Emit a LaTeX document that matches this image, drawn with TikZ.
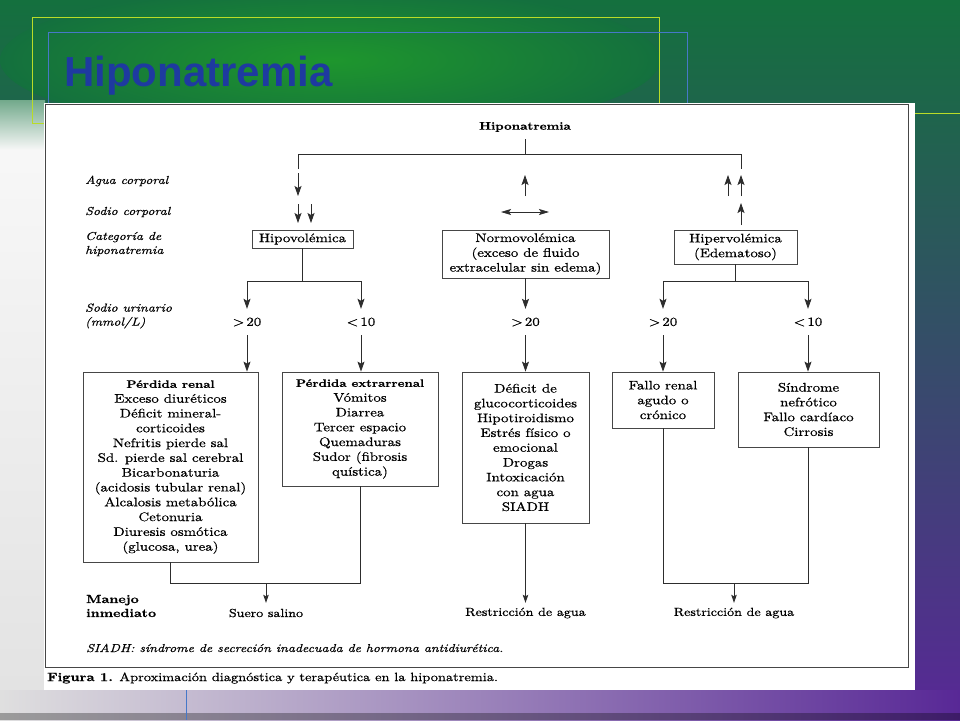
\documentclass[tikz,border=0pt]{standalone}
\usepackage{fontspec}
\setmainfont{lmroman10-regular.otf}[BoldFont=lmroman10-bold.otf,ItalicFont=lmroman10-italic.otf,
  FakeStretch=1.2,UprightFeatures={FakeBold=0.6},ItalicFeatures={FakeBold=0.5},BoldFeatures={FakeBold=0.7}]
\newfontfamily\titlefont{Liberation Sans}
\usetikzlibrary{arrows.meta}

\definecolor{bgtop}{RGB}{20,112,62}
\definecolor{bggreen}{RGB}{30,150,45}
\definecolor{bgteal}{RGB}{40,150,150}
\definecolor{bgpurple}{RGB}{88,40,150}
\definecolor{titleblue}{RGB}{30,58,160}
\definecolor{linegray}{RGB}{45,45,45}
\definecolor{boxgray}{RGB}{70,70,70}
\definecolor{lineyellow}{RGB}{185,220,40}
\definecolor{lineblue}{RGB}{70,120,200}

\tikzset{
  line/.style={draw=linegray, line width=0.8pt},
  arr/.style={line, -{Stealth[length=10pt,width=7pt,inset=2pt]}},
  arrsmall/.style={line, -{Stealth[length=8pt,width=5.5pt,inset=1.5pt]}},
  box/.style={draw=boxgray, line width=0.8pt, fill=white, align=center, inner sep=0pt,
    font=\fontsize{12.4}{14.8}\selectfont},
  lvl/.style={font=\fontsize{12.4}{14.8}\selectfont, minimum height=26pt, inner sep=0pt},
  side/.style={anchor=west, align=left, inner sep=0pt, font=\fontsize{11.5}{14}\selectfont\itshape},
  treat/.style={font=\fontsize{11.7}{14}\selectfont, minimum height=20pt, inner sep=0pt},
}
\newcommand{\boxhead}[1]{{\fontsize{10.8}{14.8}\selectfont\bfseries #1}}

\begin{document}
\begin{tikzpicture}[x=1pt,y=-1pt]
\useasboundingbox (0,0) rectangle (960,720);

% slide background
\shade[top color=bgtop, middle color=bgteal, bottom color=bgpurple] (0,0) rectangle (960,720);
\shade[inner color=bggreen, outer color=bgtop] (330,60) ellipse [x radius=330, y radius=75];
\shade[top color=bgtop!60!white, bottom color=white!94!gray] (0,100) rectangle (45,150);
\shade[top color=white!94!gray, bottom color=gray!22] (0,150) rectangle (45,690);
\shade[left color=gray!25, middle color=blue!8!white, right color=bgpurple] (0,690) rectangle (960,720);
\fill[black, opacity=0.3] (0,713) rectangle (960,720);

\draw[lineyellow, line width=0.8pt] (32,17) rectangle (659,123);
\draw[lineblue, line width=0.8pt] (48,32) rectangle (687,123);
\draw[lineyellow, line width=0.8pt] (915,113) -- (960,113);
\draw[lineblue, line width=0.8pt] (186,690) -- (186,720);

\node[anchor=west, inner sep=0pt, text=titleblue, font=\titlefont\fontsize{42}{42}\selectfont\bfseries]
  (slidetitle) at (64,76) {Hiponatremia};

% figure panel
\fill[white] (44,103) rectangle (915,690);
\draw[boxgray, line width=0.8pt] (45,104) rectangle (908,667);

% top of the tree
\node[font=\fontsize{11}{13}\selectfont\bfseries] (hipo) at (525,127) {Hiponatremia};
\coordinate (tM) at (525,154);
\coordinate (tL) at (298,154);
\coordinate (tR) at (741,154);
\coordinate (legL) at (298,169);
\coordinate (legR) at (741,169);
\draw[line, shorten <=4pt] (hipo) -- (tM);
\draw[line] (legL) -- (tL) -- (tR) -- (legR);

% water and sodium indicators
\draw[arr] (298,173) -- (298,196);
\foreach \x in {298,311} \draw[arr] (\x,204) -- (\x,223);
\draw[arr] (525,196) -- (525,175);
\draw[line, {Stealth[length=10pt,width=6pt,inset=2pt]}-{Stealth[length=10pt,width=6pt,inset=2pt]}] (501,212) -- (549,212);
\foreach \x in {728,741} \draw[arr] (\x,196) -- (\x,175);
\draw[arr] (741,225) -- (741,203);

% row labels
\node[side] (agua) at (85,181) {Agua corporal};
\node[side] (sodio) at (85,212) {Sodio corporal};
\node[side] (categ) at (85,244) {Categoría de\\hiponatremia};
\node[side] (urin) at (85,316) {Sodio urinario\\(mmol/L)};

% categories
\node[box, minimum width=101pt, minimum height=18pt] (hipov) at (302.5,239) {Hipovolémica};
\node[box, minimum width=167pt, minimum height=48pt] (normo) at (525.5,254)
  {Normovolémica\\(exceso de fluido\\extracelular sin edema)};
\node[box, minimum width=123pt, minimum height=34pt] (hiper) at (735.5,247)
  {Hipervolémica\\(Edematoso)};

% urinary sodium
\node[lvl] (gtA) at (247,322) {>\,20};
\node[lvl] (ltA) at (361,322) {<\,10};
\node[lvl] (gtB) at (525.5,322) {>\,20};
\node[lvl] (gtC) at (663,322) {>\,20};
\node[lvl] (ltC) at (808,322) {<\,10};

\coordinate (hvJ) at (302.5,281);
\draw[line] (hipov) -- (hvJ);
\draw[line] (gtA |- hvJ) -- (ltA |- hvJ);
\draw[arr] (gtA |- hvJ) -- (gtA);
\draw[arr] (ltA |- hvJ) -- (ltA);
\draw[arr] (normo) -- (gtB);
\coordinate (hrJ) at (735.5,281);
\draw[line] (hiper) -- (hrJ);
\draw[line] (gtC |- hrJ) -- (ltC |- hrJ);
\draw[arr] (gtC |- hrJ) -- (gtC);
\draw[arr] (ltC |- hrJ) -- (ltC);

% causes
\node[box, minimum width=175pt, minimum height=190pt] (renal) at (170.5,467)
  {\boxhead{Pérdida renal}\\Exceso diuréticos\\Déficit mineral-\\corticoides\\Nefritis pierde sal\\
   Sd. pierde sal cerebral\\Bicarbonaturia\\(acidosis tubular renal)\\Alcalosis metabólica\\
   Cetonuria\\Diuresis osmótica\\(glucosa, urea)};
\node[box, minimum width=156pt, minimum height=114pt] (extra) at (360,429)
  {\boxhead{Pérdida extrarrenal}\\Vómitos\\Diarrea\\Tercer espacio\\Quemaduras\\Sudor (fibrosis\\quística)};
\node[box, minimum width=127pt, minimum height=151pt] (deficit) at (525.5,447.5)
  {Déficit de\\glucocorticoides\\Hipotiroidismo\\Estrés físico o\\emocional\\Drogas\\Intoxicación\\con agua\\SIADH};
\node[box, minimum width=102pt, minimum height=56pt] (fallo) at (663,400)
  {Fallo renal\\agudo o\\crónico};
\node[box, minimum width=141pt, minimum height=75pt] (sind) at (808.5,409.5)
  {Síndrome\\nefrótico\\Fallo cardíaco\\Cirrosis};

\draw[arr] (gtA.south) -- (gtA.south |- renal.north);
\draw[arr] (ltA.south) -- (ltA.south |- extra.north);
\draw[arr] (gtB.south) -- (gtB.south |- deficit.north);
\draw[arr] (gtC.south) -- (gtC.south |- fallo.north);
\draw[arr] (ltC.south) -- (ltC.south |- sind.north);

% immediate management
\node[anchor=west, align=left, inner sep=0pt, font=\fontsize{11.7}{14}\selectfont\bfseries]
  (manejo) at (86,606) {Manejo\\inmediato};
\node[treat] (suero) at (266,613) {Suero salino};
\node[treat] (restrA) at (525.5,613) {Restricción de agua};
\node[treat] (restrB) at (734,613) {Restricción de agua};

\coordinate (mJ) at (266,583);
\draw[line] (renal.south) -- (renal.south |- mJ) -- (extra.south |- mJ) -- (extra.south);
\draw[arrsmall] (mJ) -- (suero);
\draw[arrsmall] (deficit.south) -- (restrA);
\coordinate (rJ) at (734,583);
\draw[line] (fallo.south) -- (fallo.south |- rJ) -- (sind.south |- rJ) -- (sind.south);
\draw[arrsmall] (rJ) -- (restrB);

\node[side] (nota) at (86,648) {SIADH: síndrome de secreción inadecuada de hormona antidiurética.};
\node[anchor=west, inner sep=0pt, font=\fontsize{12}{14}\selectfont] (caption) at (47,678)
  {\textbf{Figura 1.} Aproximación diagnóstica y terapéutica en la hiponatremia.};
\end{tikzpicture}
\end{document}
